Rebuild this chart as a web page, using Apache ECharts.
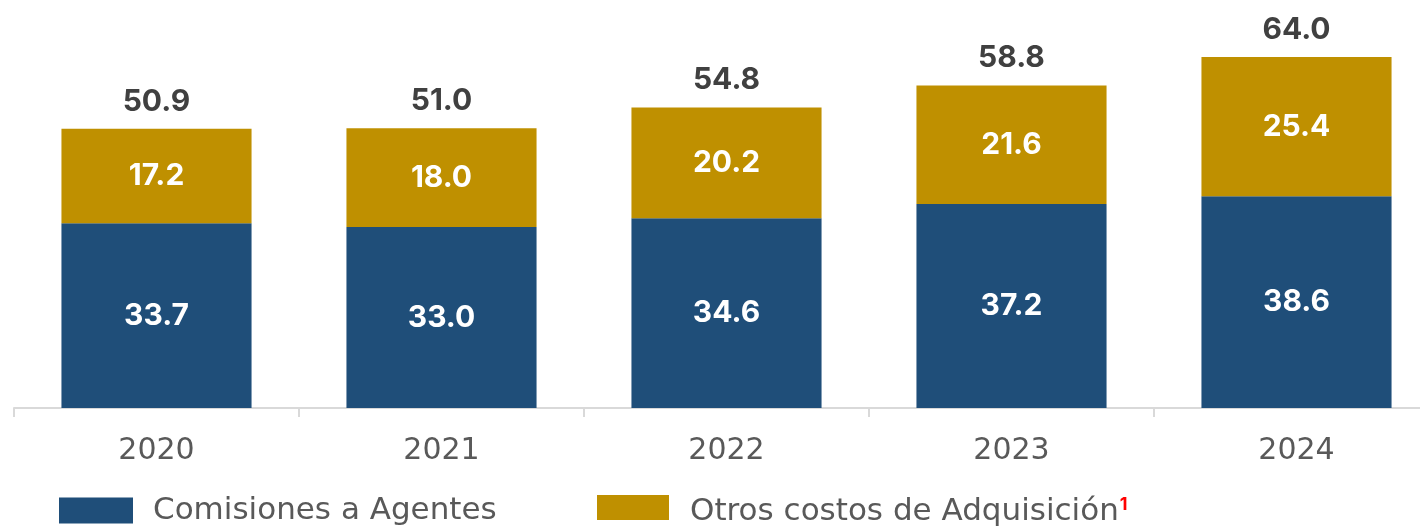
<!DOCTYPE html>
<html>
<head>
<meta charset="utf-8">
<script src="https://cdn.jsdelivr.net/npm/echarts@6/dist/echarts.min.js"></script>
<style>
html,body{margin:0;padding:0;background:#fff;overflow:hidden;width:1420px;height:528px;}
#c{width:1439px;height:528px;}
</style>
</head>
<body>
<div id="c"></div>
<script>
const categories = ['2020', '2021', '2022', '2023', '2024'];
const comisiones = [33.7, 33.0, 34.6, 37.2, 38.6];
const otros = [17.2, 18.0, 20.2, 21.6, 25.4];
const totales = [50.9, 51.0, 54.8, 58.8, 64.0];
const seriesNames = ['Comisiones a Agentes', 'Otros costos de Adquisición'];

const FONT = 'Inter, sans-serif';
const FONT_R = '"DejaVu Sans", sans-serif';
const chart = echarts.init(document.getElementById('c'), null, {renderer: 'canvas'});
const fmt = p => Number(p.value).toFixed(1);

chart.setOption({
  animation: false,
  backgroundColor: '#ffffff',
  textStyle: {fontFamily: FONT},
  grid: {left: 14, top: 24, right: 0, height: 384},
  legend: [
    {
      data: [seriesNames[0]], left: 59, top: 495, padding: 0,
      itemWidth: 74, itemHeight: 26,
      icon: 'rect',
      textStyle: {fontFamily: FONT_R, fontSize: 31, color: '#595959', padding: [8,0,0,15]}
    },
    {
      data: [seriesNames[1]], left: 597, top: 495, padding: 0,
      itemWidth: 72, itemHeight: 25,
      icon: 'rect',
      formatter: n => '{a|' + n + '}{s|1}',
      textStyle: {
        fontFamily: FONT_R, fontSize: 31, color: '#595959', padding: [8,0,0,16],
        rich: {
          a: {fontFamily: FONT_R, fontSize: 31, color: '#595959'},
          s: {fontFamily: FONT, fontSize: 18, fontWeight: 'bold', color: '#ff0000', padding: [0,0,14,1]}
        }
      }
    }
  ],
  xAxis: {
    type: 'category',
    data: categories,
    axisLine: {lineStyle: {color: '#d9d9d9', width: 2}},
    axisTick: {show: true, length: 9, lineStyle: {color: '#d9d9d9', width: 2}},
    axisLabel: {fontFamily: FONT_R, fontSize: 30, color: '#595959', margin: 28}
  },
  yAxis: {type: 'value', min: 0, max: 70, show: false, splitLine: {show: false}},
  series: [
    {
      name: seriesNames[0], type: 'bar', stack: 'a', data: comisiones,
      barCategoryGap: '33.3%', barGap: '-100%',
      itemStyle: {color: '#1F4E79'},
      label: {show: true, position: 'inside', formatter: fmt, fontFamily: FONT, fontSize: 30, fontWeight: 'bold', color: '#ffffff'}
    },
    {
      name: seriesNames[1], type: 'bar', stack: 'a', data: otros,
      barCategoryGap: '33.3%', barGap: '-100%',
      itemStyle: {color: '#BF9000'},
      label: {show: true, position: 'inside', formatter: fmt, fontFamily: FONT, fontSize: 30, fontWeight: 'bold', color: '#ffffff'}
    },
    {
      name: 'Total', type: 'bar', data: totales, silent: true,
      barCategoryGap: '33.3%', barGap: '-100%', z: 1,
      itemStyle: {color: 'rgba(0,0,0,0)'},
      label: {show: true, position: 'top', distance: 12, formatter: fmt, fontFamily: FONT, fontSize: 30, fontWeight: 'bold', color: '#404040'}
    }
  ]
});
</script>
</body>
</html>
